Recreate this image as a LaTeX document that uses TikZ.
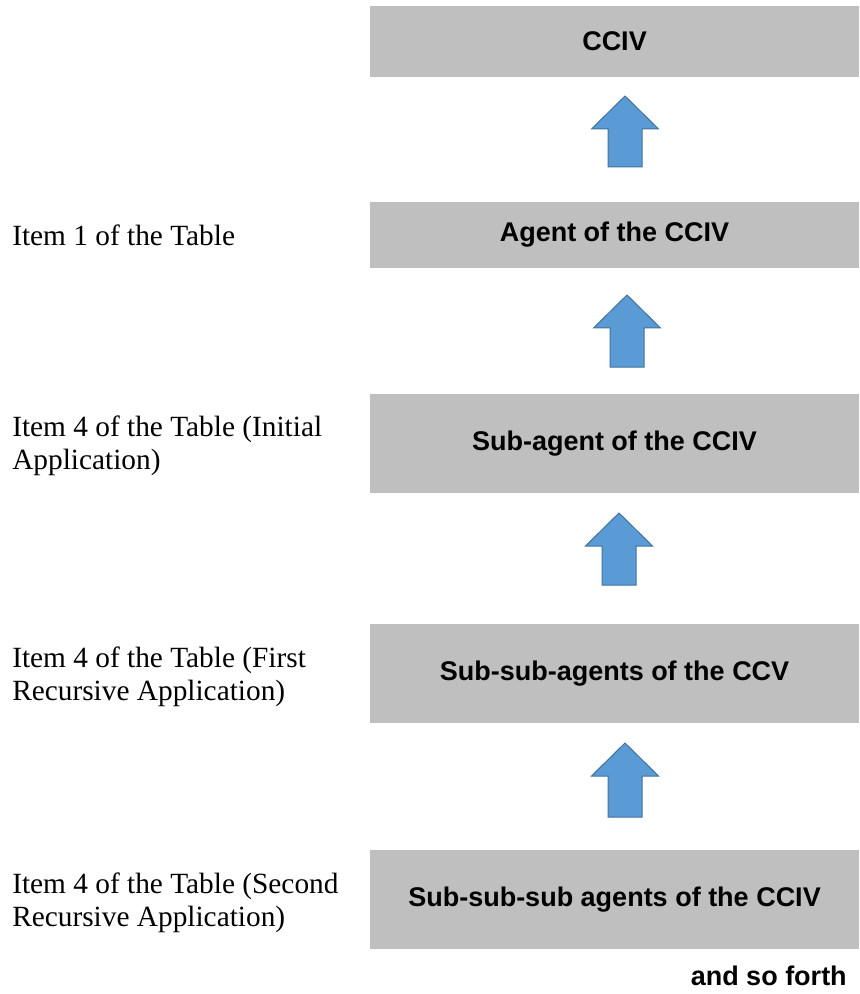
\documentclass[tikz,border=0pt]{standalone}
\usepackage{fontspec}
\setmainfont{Liberation Serif}
\setsansfont{Liberation Sans}
\definecolor{boxgray}{HTML}{BFBFBF}
\definecolor{arrfill}{HTML}{5B9BD5}
\definecolor{arrline}{HTML}{41719C}
\newcommand\blockup[4]{% name, cx, tip y, bottom y
  \coordinate (#1) at (#2,#3);
  \draw[uparrow] (#2-17,#4) -- (#2-17,#3+33) -- (#2-33.5,#3+33) -- (#1)
    -- (#2+33.5,#3+33) -- (#2+17,#3+33) -- (#2+17,#4) -- cycle;}
\begin{document}
\begin{tikzpicture}[x=0.75pt,y=-0.75pt,
  graybox/.style={fill=boxgray, draw=none, inner sep=0pt, minimum width=366.75pt,
    font=\sffamily\bfseries\fontsize{20.25}{24}\selectfont},
  sidelabel/.style={inner sep=0pt, align=left,
    font=\rmfamily\fontsize{22}{24.5}\selectfont},
  uparrow/.style={fill=arrfill, draw=arrline, line width=0.75pt, line join=miter}]
\useasboundingbox (0,0) rectangle (859,994);

\node[graybox, minimum height=53.25pt] (b1) at (614.5,41.5) {CCIV};
\node[graybox, minimum height=49.5pt] (b2) at (614.5,235) {Agent of the CCIV};
\node[graybox, minimum height=74.25pt] (b3) at (614.5,443.5) {Sub-agent of the CCIV};
\node[graybox, minimum height=74.25pt] (b4) at (614.5,673.5) {Sub-sub-agents of the CCV};
\node[graybox, minimum height=74.25pt] (b5) at (614.5,899.5) {Sub-sub-sub agents of the CCIV};

\blockup{a1}{625}{96}{167}
\blockup{a2}{627}{295}{367}
\blockup{a3}{619}{513}{585}
\blockup{a4}{625}{743}{817}

\node[sidelabel, anchor=base west] (l1) at (12,246) {Item 1 of the Table};
\node[sidelabel, anchor=west] (l2) at (12,446) {Item 4 of the Table (Initial\\Application)};
\node[sidelabel, anchor=west] (l3) at (12,677) {Item 4 of the Table (First\\Recursive Application)};
\node[sidelabel, anchor=west] (l4) at (12,903) {Item 4 of the Table (Second\\Recursive Application)};

\node[inner sep=0pt, anchor=base east, font=\sffamily\bfseries\fontsize{20.25}{24}\selectfont] (fin) at (847,985) {and so forth};
\end{tikzpicture}
\end{document}
